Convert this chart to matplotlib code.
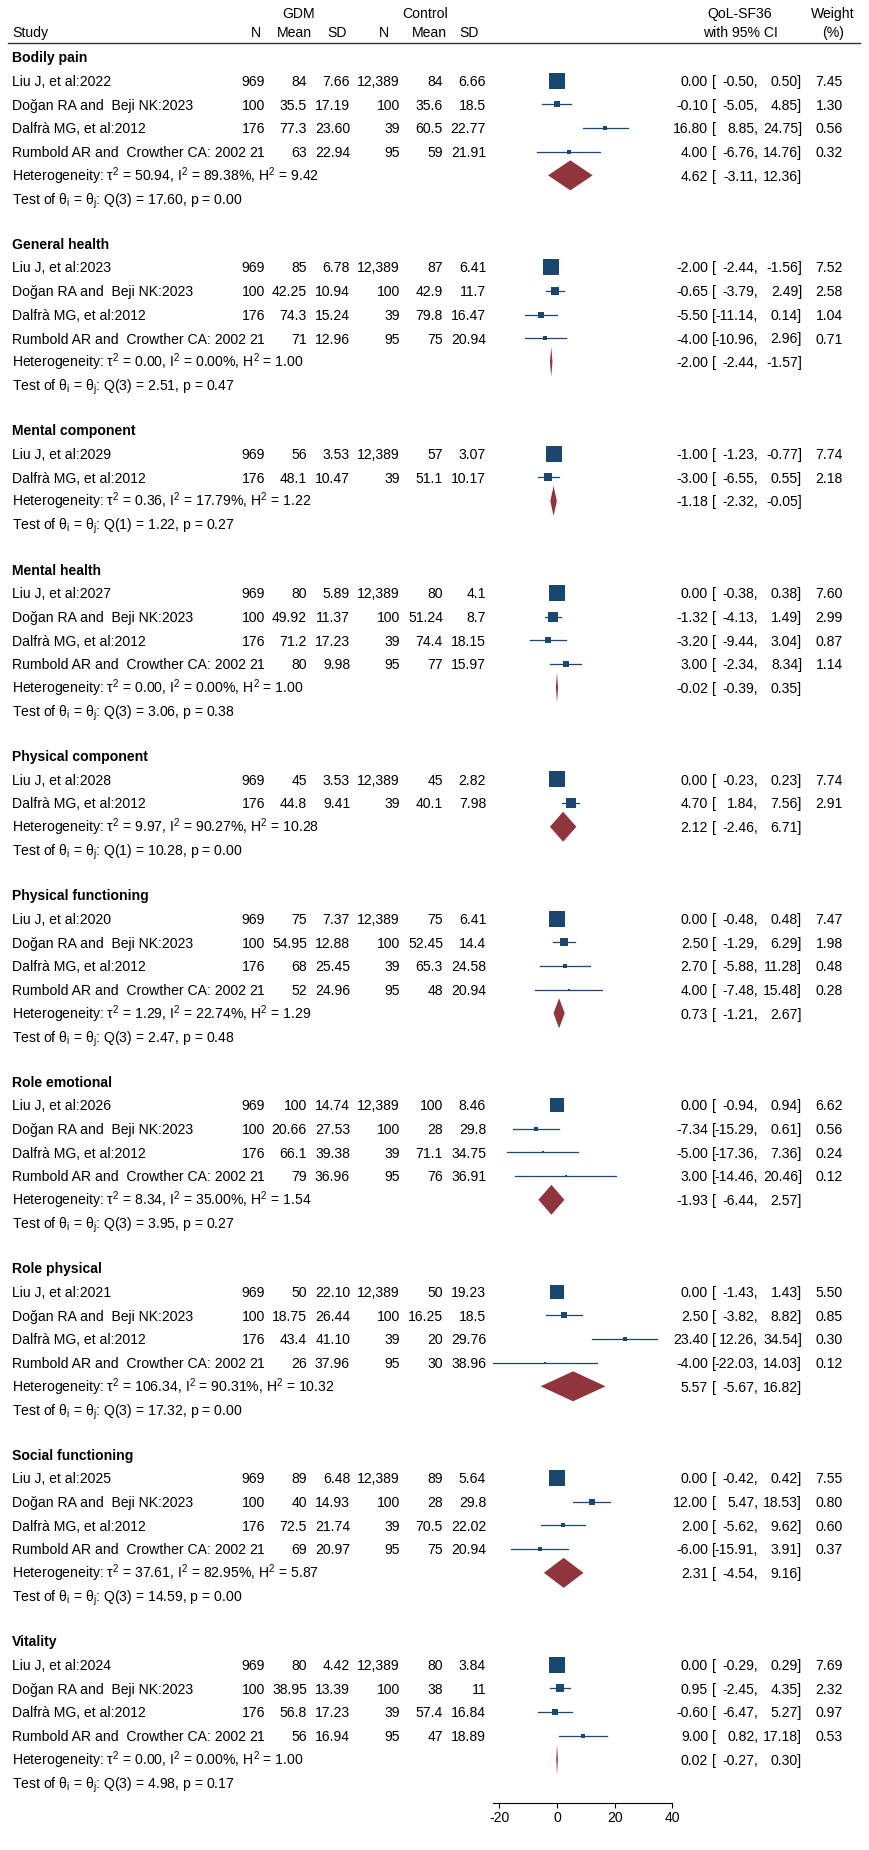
import matplotlib
matplotlib.use("Agg")
import matplotlib.pyplot as plt
from matplotlib import transforms
import numpy as np

plt.rcParams['font.family'] = ['Liberation Sans', 'DejaVu Sans']
plt.rcParams['mathtext.fontset'] = 'custom'
plt.rcParams['mathtext.rm'] = 'Liberation Sans'
plt.rcParams['mathtext.it'] = 'Liberation Sans:italic'
plt.rcParams['mathtext.bf'] = 'Liberation Sans:bold'
plt.rcParams['axes.unicode_minus'] = False

# ---- data -------------------------------------------------------------
groups = ["Bodily pain", "General health", "Mental component", "Mental health",
          "Physical component", "Physical functioning", "Role emotional",
          "Role physical", "Social functioning", "Vitality"]

DOGAN = "Doğan RA and  Beji NK:2023"
DALFRA = "Dalfrà MG, et al:2012"
RUMBOLD = "Rumbold AR and  Crowther CA: 2002"

studies = [
    ["Liu J, et al:2022", DOGAN, DALFRA, RUMBOLD],
    ["Liu J, et al:2023", DOGAN, DALFRA, RUMBOLD],
    ["Liu J, et al:2029", DALFRA],
    ["Liu J, et al:2027", DOGAN, DALFRA, RUMBOLD],
    ["Liu J, et al:2028", DALFRA],
    ["Liu J, et al:2020", DOGAN, DALFRA, RUMBOLD],
    ["Liu J, et al:2026", DOGAN, DALFRA, RUMBOLD],
    ["Liu J, et al:2021", DOGAN, DALFRA, RUMBOLD],
    ["Liu J, et al:2025", DOGAN, DALFRA, RUMBOLD],
    ["Liu J, et al:2024", DOGAN, DALFRA, RUMBOLD],
]

gdm_n = [[969, 100, 176, 21], [969, 100, 176, 21], [969, 176], [969, 100, 176, 21],
         [969, 176], [969, 100, 176, 21], [969, 100, 176, 21], [969, 100, 176, 21],
         [969, 100, 176, 21], [969, 100, 176, 21]]
ctl_n = [[12389, 100, 39, 95], [12389, 100, 39, 95], [12389, 39], [12389, 100, 39, 95],
         [12389, 39], [12389, 100, 39, 95], [12389, 100, 39, 95], [12389, 100, 39, 95],
         [12389, 100, 39, 95], [12389, 100, 39, 95]]

gdm_mean = [["84", "35.5", "77.3", "63"], ["85", "42.25", "74.3", "71"], ["56", "48.1"],
            ["80", "49.92", "71.2", "80"], ["45", "44.8"], ["75", "54.95", "68", "52"],
            ["100", "20.66", "66.1", "79"], ["50", "18.75", "43.4", "26"],
            ["89", "40", "72.5", "69"], ["80", "38.95", "56.8", "56"]]
gdm_sd = [["7.66", "17.19", "23.60", "22.94"], ["6.78", "10.94", "15.24", "12.96"],
          ["3.53", "10.47"], ["5.89", "11.37", "17.23", "9.98"], ["3.53", "9.41"],
          ["7.37", "12.88", "25.45", "24.96"], ["14.74", "27.53", "39.38", "36.96"],
          ["22.10", "26.44", "41.10", "37.96"], ["6.48", "14.93", "21.74", "20.97"],
          ["4.42", "13.39", "17.23", "16.94"]]
ctl_mean = [["84", "35.6", "60.5", "59"], ["87", "42.9", "79.8", "75"], ["57", "51.1"],
            ["80", "51.24", "74.4", "77"], ["45", "40.1"], ["75", "52.45", "65.3", "48"],
            ["100", "28", "71.1", "76"], ["50", "16.25", "20", "30"],
            ["89", "28", "70.5", "75"], ["80", "38", "57.4", "47"]]
ctl_sd = [["6.66", "18.5", "22.77", "21.91"], ["6.41", "11.7", "16.47", "20.94"],
          ["3.07", "10.17"], ["4.1", "8.7", "18.15", "15.97"], ["2.82", "7.98"],
          ["6.41", "14.4", "24.58", "20.94"], ["8.46", "29.8", "34.75", "36.91"],
          ["19.23", "18.5", "29.76", "38.96"], ["5.64", "29.8", "22.02", "20.94"],
          ["3.84", "11", "16.84", "18.89"]]

es = [[0.00, -0.10, 16.80, 4.00], [-2.00, -0.65, -5.50, -4.00], [-1.00, -3.00],
      [0.00, -1.32, -3.20, 3.00], [0.00, 4.70], [0.00, 2.50, 2.70, 4.00],
      [0.00, -7.34, -5.00, 3.00], [0.00, 2.50, 23.40, -4.00],
      [0.00, 12.00, 2.00, -6.00], [0.00, 0.95, -0.60, 9.00]]
lo = [[-0.50, -5.05, 8.85, -6.76], [-2.44, -3.79, -11.14, -10.96], [-1.23, -6.55],
      [-0.38, -4.13, -9.44, -2.34], [-0.23, 1.84], [-0.48, -1.29, -5.88, -7.48],
      [-0.94, -15.29, -17.36, -14.46], [-1.43, -3.82, 12.26, -22.03],
      [-0.42, 5.47, -5.62, -15.91], [-0.29, -2.45, -6.47, 0.82]]
hi = [[0.50, 4.85, 24.75, 14.76], [-1.56, 2.49, 0.14, 2.96], [-0.77, 0.55],
      [0.38, 1.49, 3.04, 8.34], [0.23, 7.56], [0.48, 6.29, 11.28, 15.48],
      [0.94, 0.61, 7.36, 20.46], [1.43, 8.82, 34.54, 14.03],
      [0.42, 18.53, 9.62, 3.91], [0.29, 4.35, 5.27, 17.18]]
weight = [[7.45, 1.30, 0.56, 0.32], [7.52, 2.58, 1.04, 0.71], [7.74, 2.18],
          [7.60, 2.99, 0.87, 1.14], [7.74, 2.91], [7.47, 1.98, 0.48, 0.28],
          [6.62, 0.56, 0.24, 0.12], [5.50, 0.85, 0.30, 0.12],
          [7.55, 0.80, 0.60, 0.37], [7.69, 2.32, 0.97, 0.53]]

pooled_es = [4.62, -2.00, -1.18, -0.02, 2.12, 0.73, -1.93, 5.57, 2.31, 0.02]
pooled_lo = [-3.11, -2.44, -2.32, -0.39, -2.46, -1.21, -6.44, -5.67, -4.54, -0.27]
pooled_hi = [12.36, -1.57, -0.05, 0.35, 6.71, 2.67, 2.57, 16.82, 9.16, 0.30]

tau2 = ["50.94", "0.00", "0.36", "0.00", "9.97", "1.29", "8.34", "106.34", "37.61", "0.00"]
i2 = ["89.38", "0.00", "17.79", "0.00", "90.27", "22.74", "35.00", "90.31", "82.95", "0.00"]
h2 = ["9.42", "1.00", "1.22", "1.00", "10.28", "1.29", "1.54", "10.32", "5.87", "1.00"]
q_df = [3, 3, 1, 3, 1, 3, 3, 3, 3, 3]
q_val = ["17.60", "2.51", "1.22", "3.06", "10.28", "2.47", "3.95", "17.32", "14.59", "4.98"]
p_val = ["0.00", "0.47", "0.27", "0.38", "0.00", "0.48", "0.27", "0.00", "0.00", "0.17"]

x_ticks = [-20, 0, 20, 40]

# ---- layout -----------------------------------------------------------
W, H = 869, 1850
FS = 10.1
NAVY = '#1a476f'
MAROON = '#90353b'
ROW = 23.67
GAP = 44.5

fig = plt.figure(figsize=(W / 100, H / 100), dpi=100)
ax = fig.add_axes([0, 0, 1, 1])
zero_px, px_per_unit = 557, 2.885
ax.set_xlim(-zero_px / px_per_unit, (W - zero_px) / px_per_unit)
ax.set_ylim(H, 0)
ax.patch.set_visible(False)
tr = transforms.blended_transform_factory(fig.transFigure, ax.transData)


def txt(xpx, y, s, ha='left', **kw):
    ax.text(xpx / W, y + 5.3, s, transform=tr, ha=ha, va='baseline',
            fontsize=FS, color='black', **kw)


# header
txt(299, 13, "GDM", ha='center')
txt(425, 13, "Control", ha='center')
txt(740, 13, "QoL-SF36", ha='center')
txt(833, 13, "Weight", ha='center')
txt(12, 32, "Study")
for xc, s in [(256, "N"), (294, "Mean"), (337, "SD"), (384, "N"), (429, "Mean"),
              (469, "SD"), (740, "with 95% CI"), (833, "(%)")]:
    txt(xc, 32, s, ha='center')
ax.plot([8 / W, 860 / W], [43, 43], transform=tr, color='#333333', lw=1.0)

y = 57
for g in range(len(groups)):
    n = len(studies[g])
    txt(12, y, groups[g], weight='bold')
    for k in range(n):
        yr = y + ROW * (k + 1)
        txt(12, yr, studies[g][k])
        txt(265, yr, str(gdm_n[g][k]), ha='right')
        txt(307, yr, gdm_mean[g][k], ha='right')
        txt(350, yr, gdm_sd[g][k], ha='right')
        txt(400, yr, "{:,}".format(ctl_n[g][k]), ha='right')
        txt(443, yr, ctl_mean[g][k], ha='right')
        txt(486, yr, ctl_sd[g][k], ha='right')
        txt(708, yr, "%.2f" % es[g][k], ha='right')
        txt(712, yr, "[")
        txt(758, yr, "%.2f," % lo[g][k], ha='right')
        txt(802, yr, "%.2f]" % hi[g][k], ha='right')
        txt(843, yr, "%.2f" % weight[g][k], ha='right')
        ax.plot([lo[g][k], hi[g][k]], [yr, yr], color=NAVY, lw=0.9, zorder=2)
        side = 5.6 * np.sqrt(weight[g][k]) * 0.72
        ax.scatter([es[g][k]], [yr], marker='s', s=side ** 2, color=NAVY,
                   linewidths=0, zorder=3)
    yh = y + ROW * (n + 1)
    txt(12, yh, "Heterogeneity: τ$^\\mathregular{2}$ = %s, I$^\\mathregular{2}$ = %s%%, "
                "H$^\\mathregular{2}$ = %s" % (tau2[g], i2[g], h2[g]))
    ax.fill([pooled_lo[g], pooled_es[g], pooled_hi[g], pooled_es[g]],
            [yh, yh - 15, yh, yh + 15], color=MAROON, lw=0, zorder=3)
    txt(708, yh, "%.2f" % pooled_es[g], ha='right')
    txt(712, yh, "[")
    txt(758, yh, "%.2f," % pooled_lo[g], ha='right')
    txt(802, yh, "%.2f]" % pooled_hi[g], ha='right')
    yt = y + ROW * (n + 2)
    txt(12, yt, "Test of θ$_\\mathregular{i}$ = θ$_\\mathregular{j}$: Q(%d) = %s, p = %s"
        % (q_df[g], q_val[g], p_val[g]))
    y = yt + GAP

# x axis
min_lo = min(min(v) for v in lo)
for side in ['left', 'right', 'top']:
    ax.spines[side].set_visible(False)
ax.spines['bottom'].set_position(('data', 1803))
ax.spines['bottom'].set_bounds(min_lo, x_ticks[-1])
ax.spines['bottom'].set_linewidth(0.8)
ax.set_xticks(x_ticks)
ax.tick_params(axis='x', direction='out', length=3.5, width=0.8, pad=2, labelsize=FS)
ax.set_yticks([])

fig.savefig('out.png', dpi=100)
